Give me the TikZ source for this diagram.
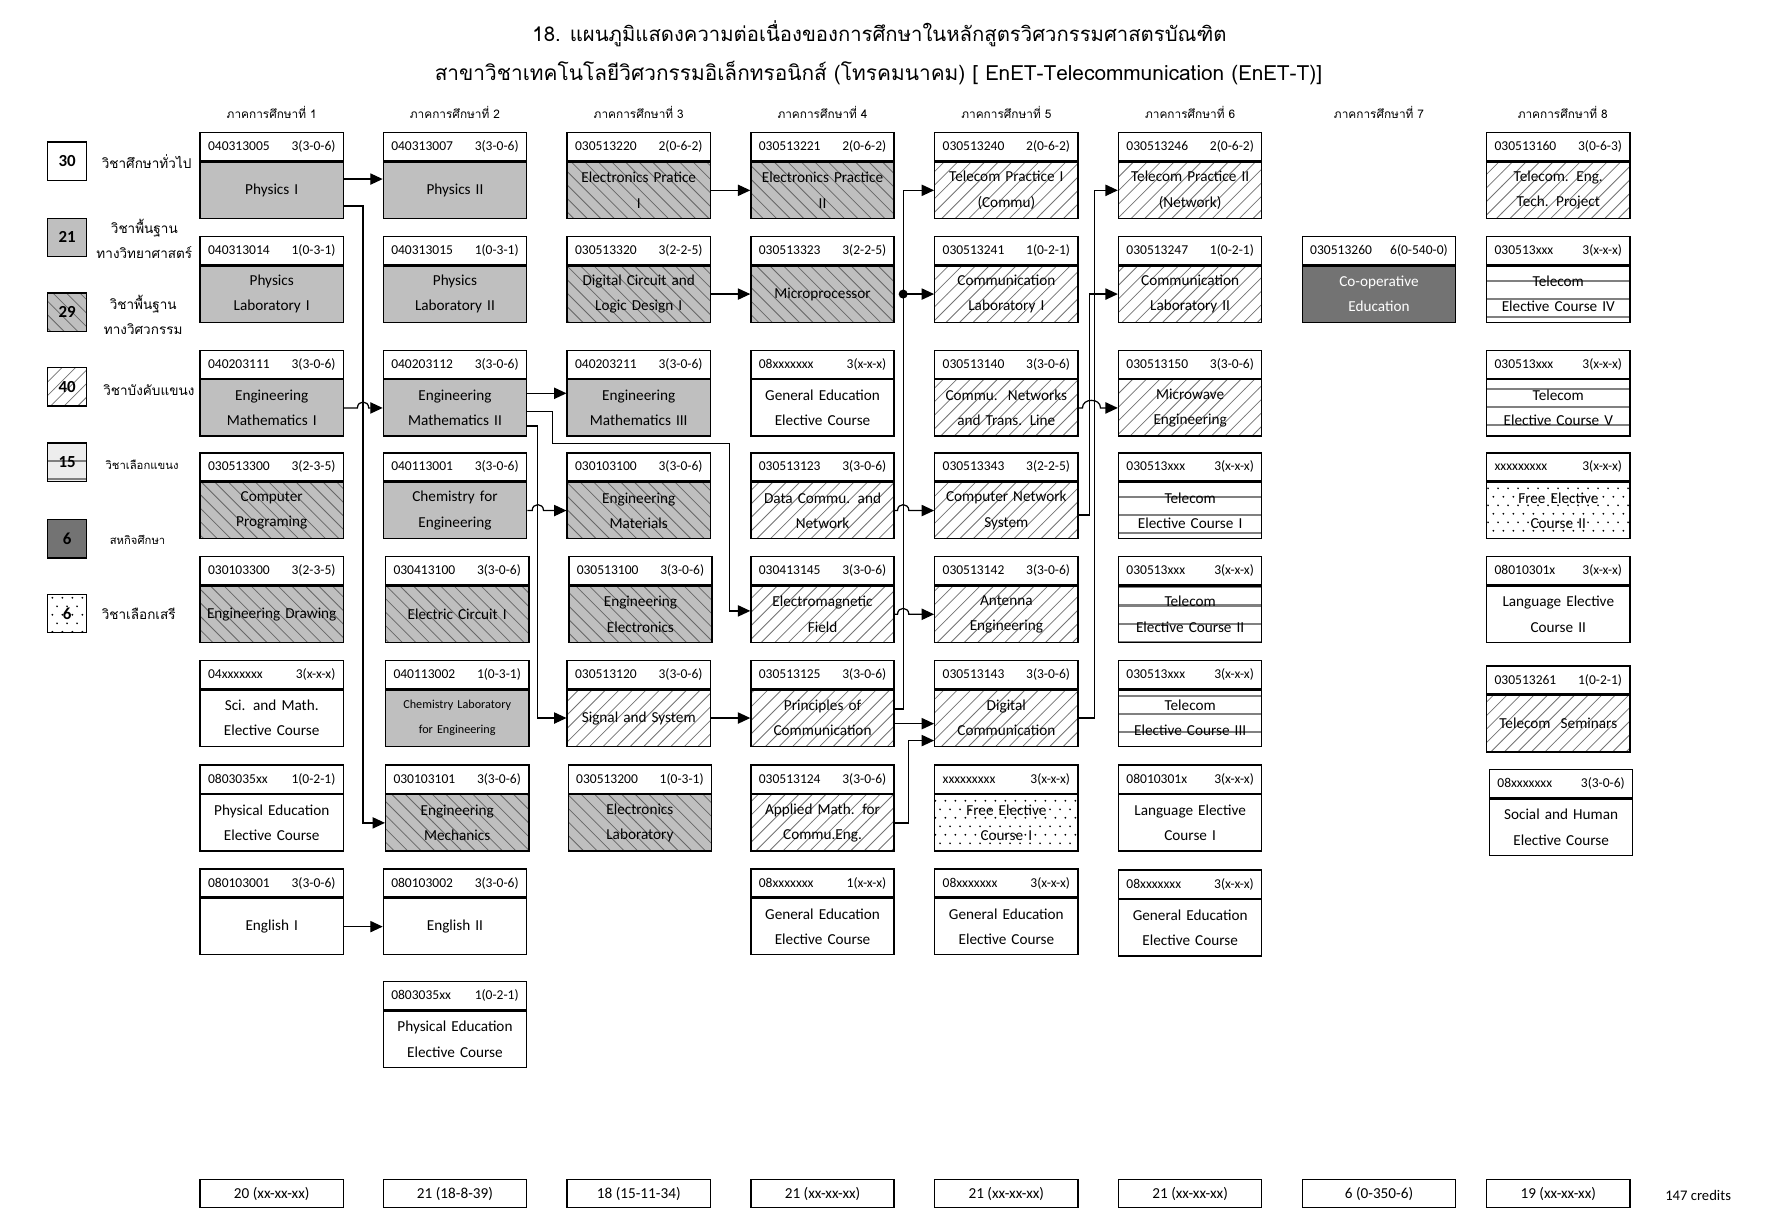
\documentclass[tikz,border=0pt]{standalone}
\usepackage{fontspec}
\setmainfont{Carlito}
\newfontfamily\thai[Script=Thai]{Loma}
\usetikzlibrary{arrows.meta,patterns,calc}

\pgfdeclarepatternformonly{nelines}{\pgfqpoint{-1pt}{-1pt}}{\pgfqpoint{13pt}{13pt}}{\pgfqpoint{12pt}{12pt}}{%
  \pgfsetlinewidth{0.7pt}%
  \pgfpathmoveto{\pgfqpoint{0pt}{0pt}}%
  \pgfpathlineto{\pgfqpoint{12.1pt}{12.1pt}}%
  \pgfusepath{stroke}}
\pgfdeclarepatternformonly{nwlines}{\pgfqpoint{-1pt}{-1pt}}{\pgfqpoint{13pt}{13pt}}{\pgfqpoint{12pt}{12pt}}{%
  \pgfsetlinewidth{0.7pt}%
  \pgfpathmoveto{\pgfqpoint{0pt}{12pt}}%
  \pgfpathlineto{\pgfqpoint{12.1pt}{-0.1pt}}%
  \pgfusepath{stroke}}
\pgfdeclarepatternformonly{hbands}{\pgfqpoint{-2pt}{0pt}}{\pgfqpoint{42pt}{16pt}}{\pgfqpoint{40pt}{16pt}}{%
  \pgfsetlinewidth{1.8pt}%
  \pgfpathmoveto{\pgfqpoint{-2pt}{8pt}}%
  \pgfpathlineto{\pgfqpoint{42pt}{8pt}}%
  \pgfusepath{stroke}}
\pgfdeclarepatternformonly{sparsedots}{\pgfqpoint{0pt}{0pt}}{\pgfqpoint{9pt}{15pt}}{\pgfqpoint{9pt}{15pt}}{%
  \pgfpathcircle{\pgfqpoint{2.25pt}{3.75pt}}{0.9pt}%
  \pgfpathcircle{\pgfqpoint{6.75pt}{11.25pt}}{0.9pt}%
  \pgfusepath{fill}}

% one course: header with code and credits, body with the title
\newcommand\course[8][]{%
  \node[hdr,#1,anchor=north] (#2-h) at (#3,#4) {#6\hfill#7};
  \node[body,#1,#5,anchor=north] (#2) at (#2-h.south) {#8};}

\begin{document}
\begin{tikzpicture}[x=1pt,y=-1pt,
    hdr/.style={draw,line width=1.2pt,fill=white,text width=113pt,inner xsep=7pt,inner ysep=0pt,
      minimum height=25pt,font=\fontsize{12}{13}\selectfont},
    body/.style={draw,line width=1.2pt,minimum width=127pt,minimum height=50pt,text width=123pt,
      inner xsep=2pt,inner ysep=0pt,align=center,font=\fontsize{13.5}{22.5}\selectfont},
    gen/.style={fill=white},
    sci/.style={fill=black!25},
    engb/.style={preaction={fill=black!25},pattern=nwlines,pattern color=black!60},
    major/.style={pattern=nelines,pattern color=black!55},
    elec/.style={pattern=hbands,pattern color=black!50},
    free/.style={pattern=sparsedots,pattern color=black},
    coop/.style={fill=black!55,text=white},
    legbox/.style={draw,line width=1.2pt,minimum width=35pt,minimum height=34pt,inner sep=0pt,
      font=\bfseries\fontsize{15}{15}\selectfont},
    leglab/.style={align=center,font=\thai\fontsize{12}{22}\selectfont},
    termhead/.style={font=\thai\fontsize{10.5}{12}\selectfont},
    total/.style={draw,line width=1.2pt,minimum width=127pt,minimum height=25pt,inner sep=0pt,
      font=\fontsize{13.5}{14}\selectfont},
    link/.style={line width=1.1pt,-{Triangle[length=11pt,width=10pt]}}]

\fill[white] (0,0) rectangle (1568,1089);
\useasboundingbox (0,0) rectangle (1568,1089);

% title
\node[font=\thai\fontsize{18}{22}\selectfont] (title1) at (780,30)
  {18. แผนภูมิแสดงความต่อเนื่องของการศึกษาในหลักสูตรวิศวกรรมศาสตรบัณฑิต};
\node[font=\thai\fontsize{18.5}{22}\selectfont] (title2) at (779,65)
  {สาขาวิชาเทคโนโลยีวิศวกรรมอิเล็กทรอนิกส์ (โทรคมนาคม) [ EnET-Telecommunication (EnET-T)]};

\foreach \n/\x in {1/241,2/403.5,3/566.5,4/729.5,5/892.5,6/1055.5,7/1223,8/1386}
  \node[termhead] (term\n) at (\x,100) {ภาคการศึกษาที่ \n};

% legend
\node[legbox,gen] (lg30) at (59.5,143) {30};
\node[legbox,sci] (lg21) at (59.5,210.5) {21};
\node[legbox,engb] (lg29) at (59.5,277) {29};
\node[legbox,major] (lg40) at (59.5,343) {40};
\node[legbox,elec,preaction={fill=black!7}] (lg15) at (59.5,410) {15};
\node[legbox,coop,text=black] (lg6a) at (59.5,478) {6};
\node[legbox,free] (lg6b) at (59.5,544) {6};
\node[leglab] (lt30) at (130,143) {วิชาศึกษาทั่วไป};
\node[leglab] (lt21) at (128,211.5) {วิชาพื้นฐาน\\ทางวิทยาศาสตร์};
\node[leglab] (lt29) at (127,279) {วิชาพื้นฐาน\\ทางวิศวกรรม};
\node[leglab] (lt40) at (132,346) {วิชาบังคับแขนง};
\node[leglab,font=\thai\fontsize{10}{12}\selectfont] (lt15) at (126,412) {วิชาเลือกแขนง};
\node[leglab,font=\thai\fontsize{10}{12}\selectfont] (lt6a) at (122,479) {สหกิจศึกษา};
\node[leglab] (lt6b) at (123,544) {วิชาเลือกเสรี};

% semester 1
\course{phyA}{241}{117}{sci}{040313005}{3(3-0-6)}{Physics I}
\course{plabA}{241}{209}{sci}{040313014}{1(0-3-1)}{Physics\\Laboratory I}
\course{mathA}{241}{310}{sci}{040203111}{3(3-0-6)}{Engineering\\Mathematics I}
\course{comp}{241}{401}{engb}{030513300}{3(2-3-5)}{Computer\\Programing}
\course{edraw}{241}{493}{engb}{030103300}{3(2-3-5)}{Engineering Drawing}
\course{scim}{241}{585}{gen}{04xxxxxxx}{3(x-x-x)}{Sci. and Math.\\Elective Course}
\course{peA}{241}{678}{gen}{0803035xx}{1(0-2-1)}{Physical Education\\Elective Course}
\course{engA}{241}{770}{gen}{080103001}{3(3-0-6)}{English I}

% semester 2
\course{phyB}{403.5}{117}{sci}{040313007}{3(3-0-6)}{Physics II}
\course{plabB}{403.5}{209}{sci}{040313015}{1(0-3-1)}{Physics\\Laboratory II}
\course{mathB}{403.5}{310}{sci}{040203112}{3(3-0-6)}{Engineering\\Mathematics II}
\course{chem}{403.5}{401}{sci}{040113001}{3(3-0-6)}{Chemistry for\\Engineering}
\course{circ}{405.5}{493}{engb}{030413100}{3(3-0-6)}{Electric Circuit I}
\course{chlab}{405.5}{585}{sci,font=\fontsize{10.8}{22.5}\selectfont}{040113002}{1(0-3-1)}{Chemistry Laboratory\\for Engineering}
\course{mech}{405.5}{678}{engb}{030103101}{3(3-0-6)}{Engineering\\Mechanics}
\course{engB}{403.5}{770}{gen}{080103002}{3(3-0-6)}{English II}
\course{peB}{403.5}{870}{gen}{0803035xx}{1(0-2-1)}{Physical Education\\Elective Course}

% semester 3
\course{eprA}{566.5}{117}{engb}{030513220}{2(0-6-2)}{Electronics Pratice\\I}
\course{digi}{566.5}{209}{engb}{030513320}{3(2-2-5)}{Digital Circuit and\\Logic Design I}
\course{mathC}{566.5}{310}{sci}{040203211}{3(3-0-6)}{Engineering\\Mathematics III}
\course{emat}{566.5}{401}{engb}{030103100}{3(3-0-6)}{Engineering\\Materials}
\course{eele}{568}{493}{engb}{030513100}{3(3-0-6)}{Engineering\\Electronics}
\course{sig}{566.5}{585}{major}{030513120}{3(3-0-6)}{Signal and System}
\course{elab}{567.5}{678}{engb}{030513200}{1(0-3-1)}{Electronics\\Laboratory}

% semester 4
\course{eprB}{729.5}{117}{engb}{030513221}{2(0-6-2)}{Electronics Practice\\II}
\course{micro}{729.5}{209}{engb}{030513323}{3(2-2-5)}{Microprocessor}
\course{genA}{729.5}{310}{gen}{08xxxxxxx}{3(x-x-x)}{General Education\\Elective Course}
\course{data}{729.5}{401}{major}{030513123}{3(3-0-6)}{Data Commu. and\\Network}
\course{emf}{729.5}{493}{major}{030413145}{3(3-0-6)}{Electromagnetic\\Field}
\course{princ}{729.5}{585}{major}{030513125}{3(3-0-6)}{Principles of\\Communication}
\course{amath}{729.5}{678}{major}{030513124}{3(3-0-6)}{Applied Math. for\\Commu.Eng.}
\course{genB}{729.5}{770}{gen}{08xxxxxxx}{1(x-x-x)}{General Education\\Elective Course}

% semester 5
\course{tpA}{892.5}{117}{major}{030513240}{2(0-6-2)}{Telecom Practice I\\(Commu)}
\course{clabA}{892.5}{209}{major}{030513241}{1(0-2-1)}{Communication\\Laboratory I}
\course{cnet}{892.5}{310}{major}{030513140}{3(3-0-6)}{Commu.\ \ Networks\\and Trans. Line}
\course{cns}{892.5}{401}{major}{030513343}{3(2-2-5)}{Computer Network\\System}
\course{ant}{892.5}{493}{major}{030513142}{3(3-0-6)}{Antenna\\Engineering}
\course{dcom}{892.5}{585}{major}{030513143}{3(3-0-6)}{Digital\\Communication}
\course{freeA}{892.5}{678}{free}{xxxxxxxxx}{3(x-x-x)}{Free Elective\\Course I}
\course{genC}{892.5}{770}{gen}{08xxxxxxx}{3(x-x-x)}{General Education\\Elective Course}

% semester 6
\course{tpB}{1055.5}{117}{major}{030513246}{2(0-6-2)}{Telecom Practice II\\(Network)}
\course{clabB}{1055.5}{209}{major}{030513247}{1(0-2-1)}{Communication\\Laboratory II}
\course{mwave}{1055.5}{310}{major}{030513150}{3(3-0-6)}{Microwave\\Engineering}
\course{telA}{1055.5}{401}{elec}{030513xxx}{3(x-x-x)}{Telecom\\Elective Course I}
\course{telB}{1055.5}{493}{elec}{030513xxx}{3(x-x-x)}{Telecom\\Elective Course II}
\course{telC}{1055.5}{585}{elec}{030513xxx}{3(x-x-x)}{Telecom\\Elective Course III}
\course{langA}{1055.5}{678}{gen}{08010301x}{3(x-x-x)}{Language Elective\\Course I}
\course{genD}{1055.5}{771}{gen}{08xxxxxxx}{3(x-x-x)}{General Education\\Elective Course}

% semester 7
\course[minimum width=136pt,text width=122pt]{coop}{1223}{209}{coop}{030513260}{6(0-540-0)}{Co-operative\\Education}

% semester 8
\course{proj}{1382}{117}{major}{030513160}{3(0-6-3)}{Telecom. Eng.\\Tech. Project}
\course{telD}{1382}{209}{elec}{030513xxx}{3(x-x-x)}{Telecom\\Elective Course IV}
\course{telE}{1382}{310}{elec}{030513xxx}{3(x-x-x)}{Telecom\\Elective Course V}
\course{freeB}{1382}{401}{free}{xxxxxxxxx}{3(x-x-x)}{Free Elective\\Course II}
\course{langB}{1382}{493}{gen}{08010301x}{3(x-x-x)}{Language Elective\\Course II}
\course{semi}{1382}{590}{major}{030513261}{1(0-2-1)}{Telecom\ \ Seminars}
\course{soc}{1384.5}{682}{gen}{08xxxxxxx}{3(3-0-6)}{Social and Human\\Elective Course}

% credit totals
\foreach \n/\x/\w/\lbl in {1/241/127/20 (xx-xx-xx),2/403.5/127/21 (18-8-39),3/566.5/127/18 (15-11-34),
    4/729.5/127/21 (xx-xx-xx),5/892.5/127/21 (xx-xx-xx),6/1055.5/127/21 (xx-xx-xx),
    7/1223/136/6 (0-350-6),8/1382/127/19 (xx-xx-xx)}
  \node[total,minimum width=\w pt] (tot\n) at (\x,1058.5) {\lbl};
\node[font=\fontsize{13}{14}\selectfont] (sum) at (1506,1060) {147 credits};

% routing columns
\coordinate (va) at (322,0);
\coordinate (vb) at (477,0);
\coordinate (kb1) at (490,393);
\coordinate (kb2) at (647,393);
\coordinate (vc) at (801,0);
\coordinate (vd) at (806,0);
\coordinate (ve) at (966,0);
\coordinate (vf) at (971,0);

% semester 1 to 2
\draw[link] ([yshift=10pt]phyA.east) -- ([yshift=10pt]phyB.west);
\draw[link] ([yshift=-14pt]phyA.east) -| (va |- mech.west) -- (mech.west);
\draw[link] (mathA.east) -- ($(va |- mathA.east)+(-5,0)$) .. controls +(0,-7) and +(0,-7) .. ++(10,0) -- (mathB.west);
\draw[link] (engA.east) -- (engB.west);

% semester 2 to 3 and 4
\draw[link] ([yshift=13pt]mathB.east) -- ([yshift=13pt]mathC.west);
\draw[link] ([yshift=-3pt]mathB.east) -| (kb1) -- (kb2) |- ([yshift=3pt]emf.west);
\draw[link] ([yshift=-16pt]mathB.east) -| (vb |- sig.west) -- (sig.west);
\draw[link] (chem.east) -- ($(vb |- chem.east)+(-5,0)$) .. controls +(0,-7) and +(0,-7) .. ++(10,0) -- (emat.west);

% semester 3 to 4
\draw[link] (eprA.east) -- (eprB.west);
\draw[link] (digi.east) -- (micro.west);
\draw[link] (sig.east) -- (princ.west);

% semester 4 to 5
\draw[link] ([yshift=8pt]princ.east) -| (vc |- tpA.west) -- (tpA.west);
\coordinate (jn) at (vc |- clabA.west);
\fill (jn) circle[radius=4pt];
\draw[link] (jn) -- (clabA.west);
\draw[link] (data.east) -- ($(vc |- data.east)+(-5,0)$) .. controls +(0,-7) and +(0,-7) .. ++(10,0) -- (cns.west);
\draw[link] (emf.east) -- ($(vc |- emf.east)+(-5,0)$) .. controls +(0,-7) and +(0,-7) .. ++(10,0) -- (ant.west);
\draw[link] ([yshift=-5pt]princ.east) -- ([yshift=-5pt]dcom.west);
\draw[link] (amath.east) -| ($(vd |- dcom.west)+(0,20)$) -- ([yshift=-20pt]dcom.west);

% semester 5 to 6
\draw[link] ([yshift=-4pt]cns.east) -| (ve |- clabB.west) -- (clabB.west);
\draw[link] (dcom.east) -| (vf |- tpB.west) -- (tpB.west);
\draw[link] (cnet.east) -- ($(ve |- cnet.east)+(-6,0)$) .. controls +(0,-9) and +(0,-9) .. ++(16,0) -- (mwave.west);
\end{tikzpicture}
\end{document}
